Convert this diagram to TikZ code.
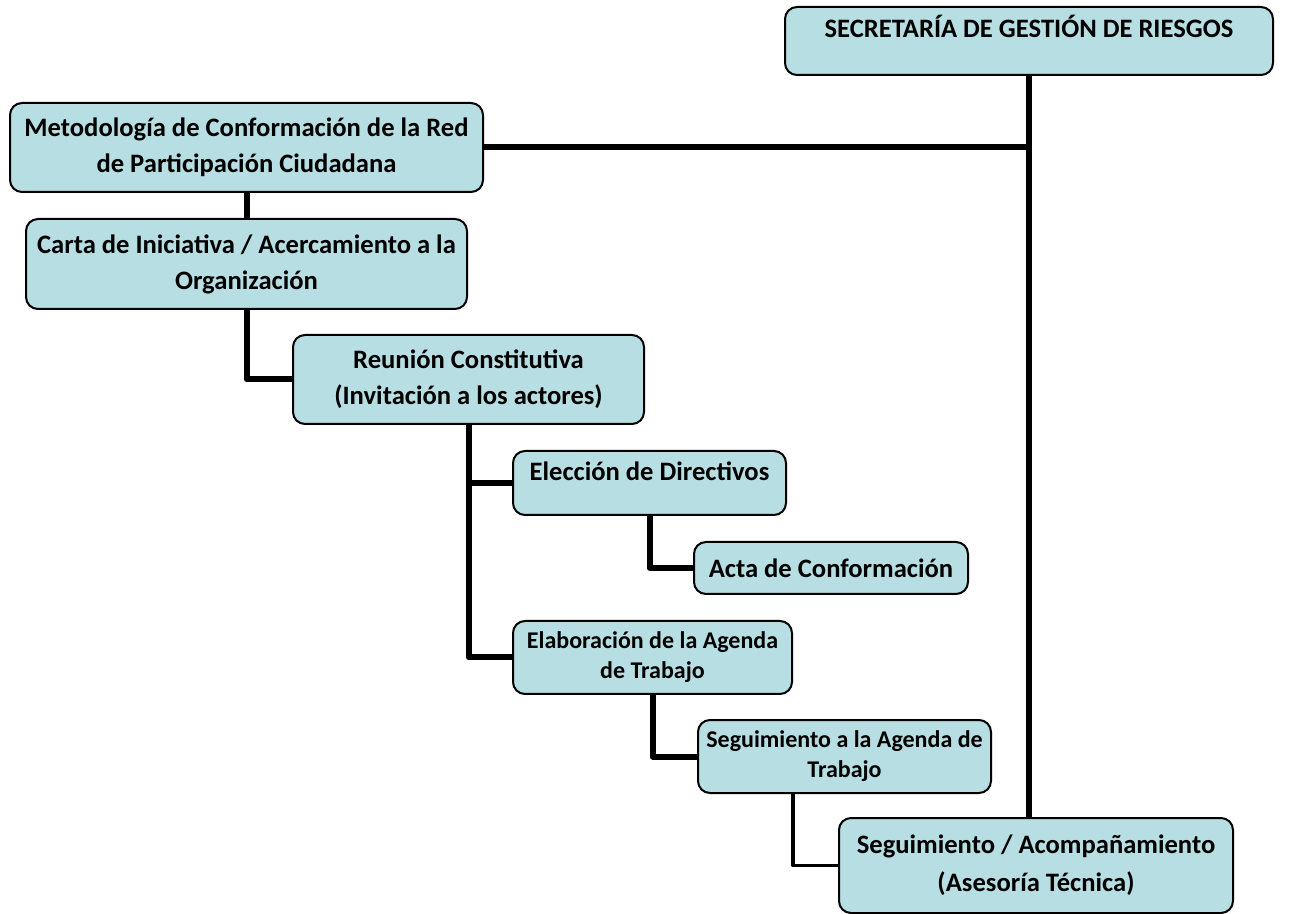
\documentclass[tikz,border=0pt]{standalone}
\usepackage{fontspec}
\setmainfont{Carlito}
\definecolor{boxfill}{HTML}{B7DEE3}
\begin{document}
\begin{tikzpicture}[x=0.5pt, y=-0.5pt, line join=round,
  box/.style = {draw, line width=1pt, rounded corners=6pt, fill=boxfill, anchor=north west, align=center, inner sep=0pt, font=\bfseries\fontsize{13.3}{18}\selectfont},
  small/.style = {font=\bfseries\fontsize{12}{15}\selectfont},
  link/.style = {line width=3pt},
  thinlink/.style = {line width=1.6pt}]
\useasboundingbox (0,0) rectangle (1297,914);

\node[box, minimum width=244pt, minimum height=34pt, text depth=15pt] (sec) at (784,6) {SECRETARÍA DE GESTIÓN DE RIESGOS};
\node[box, minimum width=236.5pt, minimum height=44.5pt] (met) at (9,102) {Metodología de Conformación de la Red\\de Participación Ciudadana};
\node[box, minimum width=220.5pt, minimum height=45pt] (carta) at (25,218) {Carta de Iniciativa / Acercamiento a la\\Organización};
\node[box, minimum width=175.5pt, minimum height=44.5pt] (reu) at (292,334) {Reunión Constitutiva\\(Invitación a los actores)};
\node[box, minimum width=136.5pt, minimum height=32pt, text depth=12pt] (elec) at (512,450) {Elección de Directivos};
\node[box, minimum width=137pt, minimum height=26pt] (acta) at (693,541) {Acta de Conformación};
\node[box, small, minimum width=139.5pt, minimum height=36.5pt] (elab) at (512,620) {Elaboración de la Agenda\\de Trabajo};
\node[box, small, minimum width=146.5pt, minimum height=36.5pt] (seg) at (697,719) {Seguimiento a la Agenda de\\Trabajo};
\node[box, minimum width=197pt, minimum height=47.5pt, font=\bfseries\fontsize{13.3}{19}\selectfont] (acom) at (838,817) {Seguimiento / Acompañamiento\\(Asesoría Técnica)};

% lineas
\coordinate (junta) at (sec.south |- met.east);
\draw[link] (sec.south) -- (sec.south |- acom.north);
\draw[link] (met.east) -- (junta);
\draw[link] (met.south) -- (carta.north);
\draw[link] (carta.south) |- (reu.west);
\draw[link] (reu.south) |- (elec.west);
\draw[link] (reu.south) |- (elab.west);
\draw[link] (elec.south) |- (acta.west);
\draw[link] (elab.south) |- (seg.west);
\draw[thinlink] ([xshift=-25.75pt]seg.south) |- (acom.west);

\end{tikzpicture}
\end{document}
